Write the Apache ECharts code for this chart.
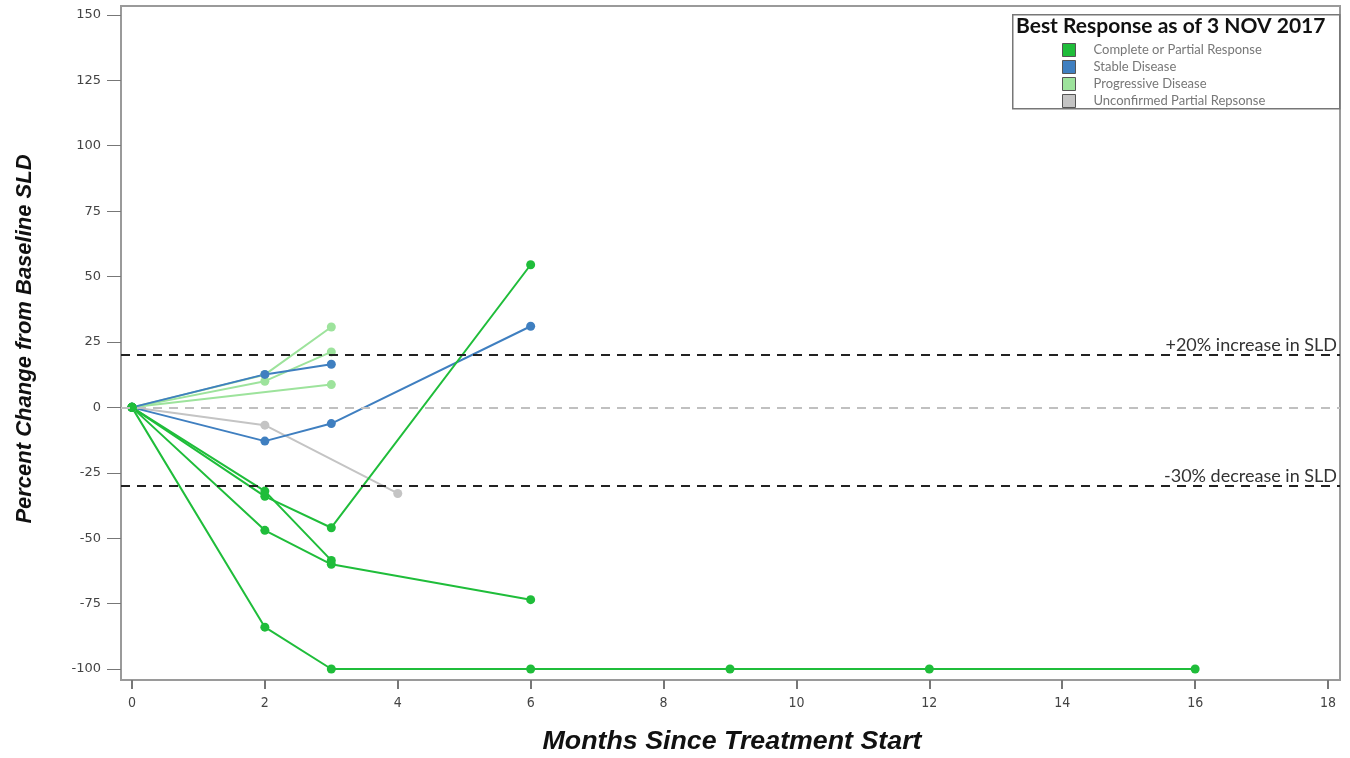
<!DOCTYPE html>
<html>
<head>
<meta charset="utf-8">
<script src="https://cdn.jsdelivr.net/npm/echarts@6/dist/echarts.min.js"></script>
<style>html,body{margin:0;padding:0;background:#fff}#c{width:1350px;height:758px}</style>
</head>
<body>
<div id="c"></div>
<script>
// Categories (best response groups)
const groups = ['Complete or Partial Response', 'Stable Disease', 'Progressive Disease', 'Unconfirmed Partial Repsonse'];
const groupColors = ['#1fbd3a', '#3f7fc0', '#9de39c', '#c4c4c4'];

// Patient trajectories: [months, percent change]
const crPr1 = [[0,0],[2,-84],[3,-100],[6,-100],[9,-100],[12,-100],[16,-100]];
const crPr2 = [[0,0],[2,-47],[3,-60],[6,-73.5]];
const crPr3 = [[0,0],[2,-34],[3,-46],[6,54.5]];
const crPr4 = [[0,0],[2,-32],[3,-58.5]];
const sd1 = [[0,0],[2,12.6],[3,16.5]];
const sd2 = [[0,0],[2,-12.9],[3,-6.2],[6,31]];
const pd1 = [[0,0],[2,12.5],[3,30.7]];
const pd2 = [[0,0],[2,10],[3,21.2]];
const pd3 = [[0,0],[3,8.7]];
const upr1 = [[0,0],[2,-6.8],[4,-32.9]];

const patients = [
  {g:2, d:pd1},{g:2, d:pd2},{g:2, d:pd3},
  {g:3, d:upr1},
  {g:1, d:sd1},{g:1, d:sd2},
  {g:0, d:crPr1},{g:0, d:crPr2},{g:0, d:crPr3},{g:0, d:crPr4}
];

// Reference lines
const refLines = [
  {y: 20, label: '+20% increase in SLD', color: '#222'},
  {y: -30, label: '-30% decrease in SLD', color: '#222'},
  {y: 0, label: '', color: '#c0c0c0'}
];

// Axis ticks
const xTickValues = [0,2,4,6,8,10,12,14,16,18];
const yTickValues = [-100,-75,-50,-25,0,25,50,75,100,125,150];
const xRange = {min: -0.165, max: 18.18};
const yRange = {min: -104.2, max: 153.4};
const xTitle = 'Months Since Treatment Start';
const yTitle = 'Percent Change from Baseline SLD';
const legendTitle = 'Best Response as of 3 NOV 2017';

const chart = echarts.init(document.getElementById('c'));

const series = [];
series.push({
  type: 'line', data: [], silent: true,
  markLine: {
    symbol: ['none','none'], silent: true, animation: false,
    data: refLines.map(r => ({
      yAxis: r.y,
      lineStyle: {color: r.color, type: [9,7], width: 2},
      label: {show: !!r.label, formatter: r.label, position: 'insideEndTop',
        color: '#333', fontSize: 18, fontFamily: 'Lato', distance: [3, 1]}
    }))
  }
});
patients.forEach(p => {
  series.push({
    name: groups[p.g], type: 'line', data: p.d,
    symbol: 'circle', symbolSize: 9, animation: false,
    lineStyle: {color: groupColors[p.g], width: 2},
    itemStyle: {color: groupColors[p.g]},
    z: 3
  });
});

chart.setOption({
  backgroundColor: '#fff',
  animation: false,
  grid: {left: 121, right: 10, top: 6, bottom: 78, show: true, borderColor: '#9a9a9a', borderWidth: 2},
  xAxis: {
    type: 'value', min: xRange.min, max: xRange.max,
    axisLine: {show: false, onZero: false},
    axisTick: {show: true, length: 9, lineStyle: {color: '#777', width: 2}, customValues: xTickValues},
    axisLabel: {customValues: xTickValues, color: '#444', fontSize: 14,
      fontFamily: 'DejaVu Sans Condensed', margin: 16},
    splitLine: {show: false}
  },
  yAxis: {
    type: 'value', min: yRange.min, max: yRange.max,
    axisLine: {show: false, onZero: false},
    axisTick: {show: true, length: 14, lineStyle: {color: '#777', width: 1}, customValues: yTickValues},
    axisLabel: {customValues: yTickValues, color: '#444', fontSize: 13,
      fontFamily: 'DejaVu Sans', margin: 20},
    splitLine: {show: false}
  },
  legend: {
    orient: 'vertical', left: 1057, top: 38, itemGap: 3,
    itemWidth: 13, itemHeight: 13, icon: 'rect',
    data: groups.map((g, i) => ({name: g, itemStyle: {color: groupColors[i], borderColor: '#555', borderWidth: 1}})),
    textStyle: {color: '#777', fontSize: 13, fontFamily: 'Lato', padding: [0,0,0,13]}
  },
  graphic: [
    {type: 'rect', left: 1012, top: 14, z: 0,
      shape: {width: 327, height: 94}, style: {fill: '#fff', stroke: '#777', lineWidth: 1.5}},
    {type: 'text', left: 1016, top: 16, z: 10,
      style: {text: legendTitle, fontSize: 21, fontWeight: 'bold', fontFamily: 'Lato', fill: '#111'}},
    {type: 'text', x: 732, y: 742, scaleX: 1.03, z: 10,
      style: {text: xTitle, fontSize: 26, fontWeight: 'bold', fontStyle: 'italic',
        fontFamily: 'Liberation Sans', fill: '#111', align: 'center', verticalAlign: 'middle'}},
    {type: 'text', x: 25, y: 339, rotation: Math.PI / 2, z: 10,
      style: {text: yTitle, fontSize: 22, fontWeight: 'bold', fontStyle: 'italic',
        fontFamily: 'Liberation Sans', fill: '#111', align: 'center', verticalAlign: 'middle'}}
  ],
  series: series
});
</script>
</body>
</html>
